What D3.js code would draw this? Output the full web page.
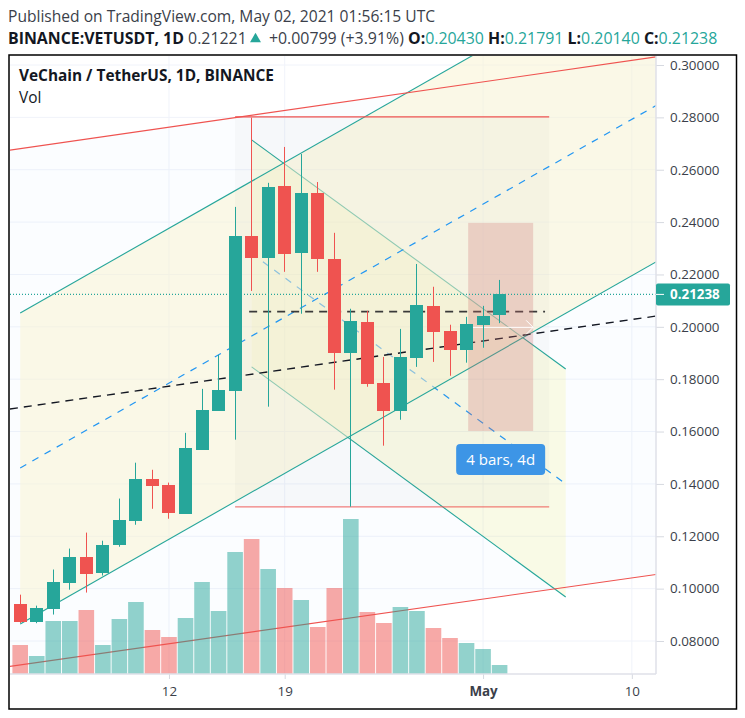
<!DOCTYPE html>
<html>
<head>
<meta charset="utf-8">
<script src="https://cdn.jsdelivr.net/npm/d3@7"></script>
<style>
body { margin: 0; background: #fff; }
text { font-family: "Open Sans", sans-serif; }
</style>
</head>
<body>
<svg id="chart" width="745" height="718"></svg>
<script>
// candles, one per day from Apr 3 2021 (day 0) to May 2 (day 29)
var days = d3.range(30);
var opens = [.0943,.0875,.0924,.1023,.1122,.1061,.1168,.1260,.1420,.1397,.1286,.1531,.1679,.1756,.2347,.2263,.2538,.2282,.2511,.2260,.1901,.2019,.1786,.1679,.1882,.2080,.1985,.1912,.2008,.2043];
var highs = [.0977,.0935,.1073,.1153,.1214,.1183,.1344,.1481,.1454,.1405,.1595,.1763,.1893,.2458,.2799,.2550,.2687,.2660,.2553,.2359,.2069,.2061,.1885,.1992,.2240,.2153,.2008,.2038,.2080,.21791];
var lows = [.0869,.0868,.0901,.0996,.0985,.1050,.1160,.1244,.1305,.1267,.1286,.1531,.1679,.1569,.2137,.1695,.2210,.2050,.2210,.1760,.1313,.1771,.1546,.1645,.1847,.1866,.1813,.1863,.1920,.20140];
var closes = [.0875,.0927,.1027,.1122,.1057,.1168,.1263,.1420,.1393,.1290,.1538,.1683,.1760,.2347,.2263,.2534,.2279,.2511,.2260,.1901,.2023,.1782,.1679,.1885,.2084,.1981,.1912,.2011,.2042,.21238];
var volumes = [29,18,53,53,64,29,55,72,44,37,56,92,63,122,135,105,86,74,47,86,155,62,51,67,63,46,36,31,25,9];

var priceTicks = [.08,.10,.12,.14,.16,.18,.20,.22,.24,.26,.28,.30];
var dateTickDays = [9,16,28,37];
var dateTickLabels = ["12","19","May","10"];
var lastPrice = 0.21238;

// drawings, as [day, price, day, price]
var redTop = [-0.62,.2675,38.46,.3031];
var redBottom = [-0.62,.0703,38.46,.1054];
var blackMedian = [-0.62,.1686,38.46,.2041];
var riseUpper = [0,.2053,38.46,.3435];
var riseMid = [0,.1461,38.46,.2845];
var riseLower = [0,.0865,38.46,.2248];
var fallUpper = [14,.2714,33,.1839];
var fallMid = [14,.2280,33,.1400];
var fallLower = [14,.1847,33,.0968];
var rangeTop = [13,.2802,32,.2802];
var rangeBottom = [13,.1312,32,.1312];
var rangeMid = [13.85,.2058,31.75,.2058];
var dateRange = [27.1,.2397,31.03,.1602];
var dateRangeArrow = [27.1,.1998,31.03,.1998];

var green = "#26a69a", red = "#ef5350";
var left = 10, right = 656, top_ = 56, bottom = 674;

var svg = d3.select("#chart");

var x = d3.scaleLinear().domain([0,39]).range([20.2,664.9]);
var y = d3.scaleLinear().domain([.08,.30]).range([641,65]);
var yVol = d3.scaleLinear().domain([0,155]).range([bottom,519]);

svg.append("clipPath").attr("id","plot")
	.append("rect").attr("x",left).attr("y",top_).attr("width",right-left).attr("height",bottom-top_);

// header
svg.append("text").attr("x",8).attr("y",22).attr("font-size",15.6).attr("fill","#3b3f4a")
	.text("Published on TradingView.com, May 02, 2021 01:56:15 UTC");

var head = svg.append("text").attr("x",8).attr("y",44).attr("font-size",15.9).attr("fill","#131722");
var headParts = [
	["BINANCE:VETUSDT, 1D ",700,"#131722",null],["0.21221 ",400,"#3b3f4a",null],["+0.00799 (+3.91%) ",400,"#3b3f4a",18],
	["O:",700,"#131722",null],["0.20430 ",400,green,null],["H:",700,"#131722",null],["0.21791 ",400,green,null],
	["L:",700,"#131722",null],["0.20140 ",400,green,null],["C:",700,"#131722",null],["0.21238",400,green,null]
];
head.selectAll("tspan").data(headParts).enter().append("tspan")
	.attr("font-weight",function(d){ return d[1]; })
	.attr("fill",function(d){ return d[2]; })
	.attr("dx",function(d){ return d[3]; })
	.attr("xml:space","preserve")
	.text(function(d){ return d[0]; });

// up triangle between last price and change
svg.append("path").attr("d",d3.symbol().type(d3.symbolTriangle).size(52))
	.attr("transform","translate(255.5,39)").attr("fill",green);

var plot = svg.append("g").attr("clip-path","url(#plot)");

// grid
plot.append("g").selectAll("line").data(priceTicks).enter().append("line")
	.attr("x1",left).attr("x2",right)
	.attr("y1",function(d){ return y(d); }).attr("y2",function(d){ return y(d); })
	.attr("stroke","#f0f3fa");
plot.append("g").selectAll("line").data(dateTickDays).enter().append("line")
	.attr("x1",function(d){ return x(d); }).attr("x2",function(d){ return x(d); })
	.attr("y1",top_).attr("y2",bottom)
	.attr("stroke","#f0f3fa");

function band(a, b) {
	return "M" + x(a[0]) + "," + y(a[1]) + "L" + x(a[2]) + "," + y(a[3]) + "L" + x(b[2]) + "," + y(b[3]) + "L" + x(b[0]) + "," + y(b[1]) + "Z";
}
function seg(a, color, width, dash) {
	return plot.append("line")
		.attr("x1",x(a[0])).attr("y1",y(a[1])).attr("x2",x(a[2])).attr("y2",y(a[3]))
		.attr("stroke",color).attr("stroke-width",width).attr("stroke-dasharray",dash || null);
}

// outer red channel
plot.append("path").attr("d",band(redTop,redBottom)).attr("fill","rgba(33,150,243,.02)");

// falling channel sits under the rising fill
plot.append("path").attr("d",band(fallUpper,fallLower)).attr("fill","rgba(245,235,100,.16)");
seg(fallUpper,green,1.1);
seg(fallLower,green,1.1);
seg(fallMid,"#2196f3",1.2,"7 7");

// rising channel
plot.append("path").attr("d",band(riseUpper,riseLower)).attr("fill","rgba(249,244,207,.5)");

// grey range box
plot.append("rect")
	.attr("x",x(rangeTop[0])).attr("width",x(rangeTop[2])-x(rangeTop[0]))
	.attr("y",y(rangeTop[1])).attr("height",y(rangeBottom[1])-y(rangeTop[1]))
	.attr("fill","rgba(120,120,120,.04)");

seg(riseUpper,green,1.1);
seg(riseLower,green,1.1);
seg(riseMid,"#2196f3",1.2,"7 7");
seg(redTop,red,1.1);
seg(redBottom,red,1.1);
seg(blackMedian,"#131722",1.4,"8 6");
seg(rangeTop,red,1.1);
seg(rangeBottom,red,1.3).attr("stroke-opacity",.75);
seg(rangeMid,"#3a3a3a",1.6,"8 6");

// date range
plot.append("rect")
	.attr("x",x(dateRange[0])).attr("width",x(dateRange[2])-x(dateRange[0]))
	.attr("y",y(dateRange[1])).attr("height",y(dateRange[3])-y(dateRange[1]))
	.attr("fill","rgba(208,110,112,.27)");
seg(dateRangeArrow,"#fff",1);
plot.append("path")
	.attr("d","M" + (x(dateRangeArrow[2])-7) + "," + (y(dateRangeArrow[1])-7) + "l7,7l-7,7")
	.attr("fill","none").attr("stroke","#fff").attr("stroke-width",1);

// volume
var volW = 15.6;
plot.append("g").selectAll("rect").data(days).enter().append("rect")
	.attr("x",function(d){ return x(d)-volW/2; })
	.attr("width",volW)
	.attr("y",function(d){ return yVol(volumes[d]); })
	.attr("height",function(d){ return bottom-yVol(volumes[d]); })
	.attr("fill",function(d){ return closes[d]>=opens[d] ? green : red; })
	.attr("fill-opacity",.5);

// dotted last price
plot.append("line")
	.attr("x1",left).attr("x2",right).attr("y1",y(lastPrice)).attr("y2",y(lastPrice))
	.attr("stroke",green).attr("stroke-dasharray","1 2").attr("stroke-width",1.2);

// candles
var candle = plot.append("g").selectAll("g").data(days).enter().append("g");
candle.append("line")
	.attr("x1",function(d){ return Math.round(x(d)-.5)+.5; }).attr("x2",function(d){ return Math.round(x(d)-.5)+.5; })
	.attr("y1",function(d){ return y(highs[d]); }).attr("y2",function(d){ return y(lows[d]); })
	.attr("stroke",function(d){ return closes[d]>=opens[d] ? green : red; })
	.attr("stroke-width",1);
candle.append("rect")
	.attr("x",function(d){ return Math.round(x(d)-.5)-6; })
	.attr("width",13)
	.attr("y",function(d){ return Math.round(y(Math.max(opens[d],closes[d]))); })
	.attr("height",function(d){ return Math.round(Math.abs(y(opens[d])-y(closes[d]))); })
	.attr("fill",function(d){ return closes[d]>=opens[d] ? green : red; });

// date range label
var labelX = x((dateRange[0]+dateRange[2])/2);
var labelY = y(dateRange[3])+13;
svg.append("rect").attr("x",labelX-44.5).attr("y",labelY).attr("width",89).attr("height",31).attr("rx",4)
	.attr("fill","#3d95e6");
svg.append("text").attr("x",labelX).attr("y",labelY+21).attr("text-anchor","middle")
	.attr("font-size",15).attr("fill","#fff").text("4 bars, 4d");

// legend
svg.append("text").attr("x",19).attr("y",81).attr("font-size",15.4).attr("font-weight",700).attr("fill","#131722")
	.text("VeChain / TetherUS, 1D, BINANCE");
svg.append("text").attr("x",19).attr("y",103).attr("font-size",15.4).attr("fill","#131722").text("Vol");

// axes
var yAxis = d3.axisRight(y).tickValues(priceTicks).tickFormat(d3.format(".5f")).tickSize(8).tickPadding(6);
var gy = svg.append("g").attr("transform","translate(" + right + ",0)").call(yAxis);
gy.select(".domain").remove();
gy.selectAll("line").attr("stroke","#d6d9e0");
gy.selectAll("text").attr("font-size",13.4).attr("fill","#3b3f4a").attr("font-family","'Open Sans', sans-serif");

var xAxis = d3.axisBottom(x).tickValues(dateTickDays)
	.tickFormat(function(d,i){ return dateTickLabels[i]; }).tickSize(5).tickPadding(7);
var gx = svg.append("g").attr("transform","translate(0," + bottom + ")").call(xAxis);
gx.select(".domain").remove();
gx.selectAll("line").attr("stroke","#d6d9e0");
gx.selectAll("text").attr("font-size",13.4).attr("fill","#3b3f4a").attr("font-family","'Open Sans', sans-serif")
	.attr("font-weight",function(d,i){ return dateTickLabels[i]=="May" ? 700 : 400; });

// pane borders
svg.append("line").attr("x1",right).attr("x2",right).attr("y1",top_).attr("y2",bottom).attr("stroke","#dfe1e8").attr("stroke-width",1.5);
svg.append("line").attr("x1",left).attr("x2",right).attr("y1",bottom).attr("y2",bottom).attr("stroke","#dfe1e8").attr("stroke-width",1.5);

// last price tag
svg.append("rect").attr("x",right).attr("y",y(lastPrice)-11).attr("width",74).attr("height",22).attr("rx",2).attr("fill",green);
svg.append("line").attr("x1",right).attr("x2",right+8).attr("y1",y(lastPrice)).attr("y2",y(lastPrice)).attr("stroke","#fff");
svg.append("text").attr("x",right+14).attr("y",y(lastPrice)+5).attr("font-size",13.4).attr("font-weight",700).attr("fill","#fff")
	.text(d3.format(".5f")(lastPrice));

// outer frame
svg.append("rect").attr("x",9).attr("y",55).attr("width",727.5).attr("height",654)
	.attr("fill","none").attr("stroke","#000").attr("stroke-width",1.5);
</script>
</body>
</html>
